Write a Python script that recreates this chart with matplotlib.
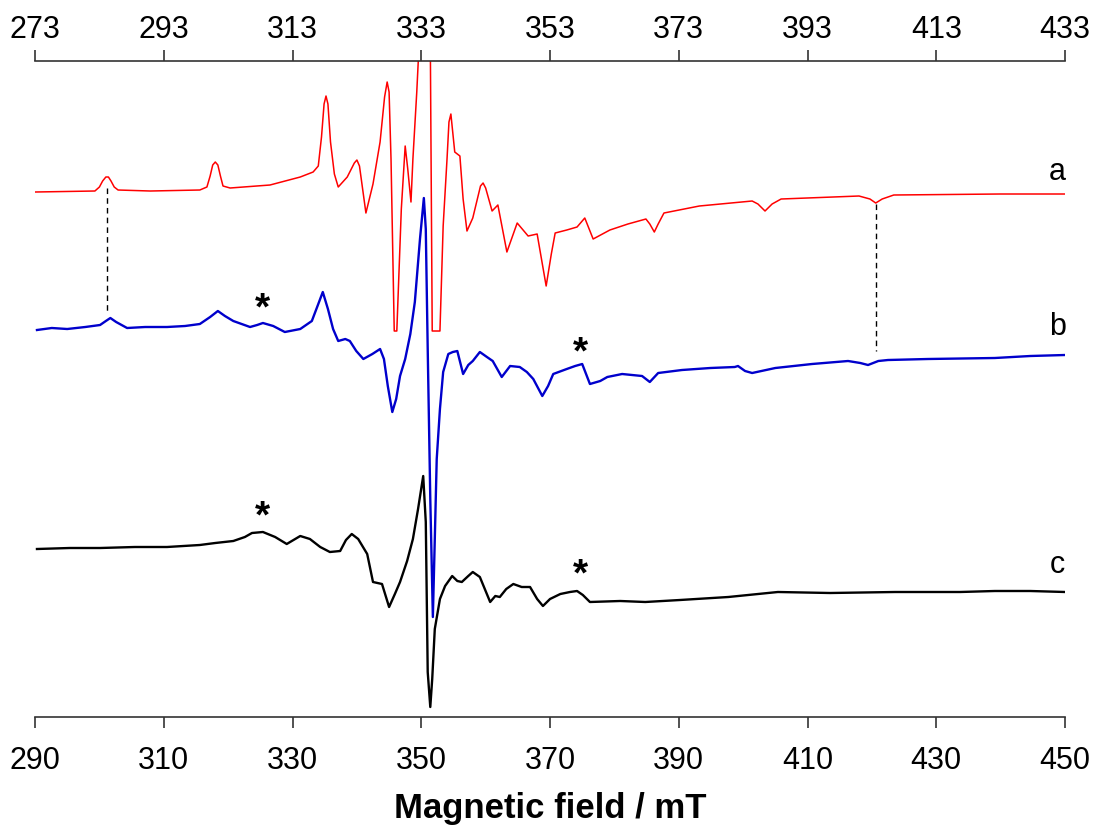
import matplotlib
matplotlib.use("Agg")
import matplotlib.pyplot as plt

plt.rcParams['font.family'] = ['Liberation Sans', 'DejaVu Sans']

# spectrum a (top axis, mT)
field_a = [273.0, 282.3, 283.0, 283.5, 284.0, 284.4, 284.8, 285.3, 285.9, 290.9,
           298.6, 299.7, 300.2, 300.6, 301.0, 301.4, 301.8, 302.2, 303.3, 309.5,
           314.2, 316.2, 317.0, 317.5, 317.9, 318.2, 318.5, 318.9, 319.5, 320.1,
           321.5, 322.6, 323.0, 323.4, 324.4, 325.5, 326.6, 327.3, 327.7, 328.0,
           328.3, 328.8, 329.2, 329.9, 330.5, 330.9, 331.4, 331.7, 332.3,
           332.7, 334.4, 334.7, 335.9, 336.4, 337.0, 337.3, 337.6, 338.2, 339.0, 339.5,
           340.1, 341.0, 342.2, 342.6, 343.0, 344.0, 344.9, 346.3, 347.9, 349.6, 351.0, 352.4,
           353.2, 353.8, 355.6, 357.2, 358.4, 359.7, 362.3, 365.1, 367.9, 368.5,
           369.2, 369.8, 370.7, 376.2, 384.4, 385.3, 386.4, 387.5, 388.9, 401.0,
           402.7, 403.6, 404.6, 406.4, 422.9, 433.0]
signal_a = [0, 1, 5, 11, 15, 15, 11, 5, 2, 1,
            2, 5, 16, 27, 30, 27, 16, 6, 4, 7,
            15, 20, 26, 55, 88, 96, 88, 50, 18, 5,
            15, 29, 32, 26, -21, 8, 50, 95, 110, 100,
            33, -139, -139, -17, 46, 23, -10, 33, 100,
            153, 153, -139, -139, -34, 33, 70, 78, 40, 36, -7,
            -39, -26, 6, 9, 4, -19, -13, -60, -31, -44, -42, -94,
            -62, -41, -38, -35, -26, -47, -38, -32, -27, -32,
            -40, -32, -21, -14, -9, -12, -19, -12, -7, -4,
            -7, -11, -7, -3, -2, -2]

# spectrum b (bottom axis, mT)
field_b = [290.3, 292.6, 295.0, 297.8, 300.1, 301.0, 301.7, 302.6, 304.3, 307.1,
           310.5, 313.3, 315.6, 317.2, 318.4, 319.5, 320.8, 323.4, 324.5, 325.4,
           327.0, 328.8, 331.2, 333.0, 334.0, 334.7, 335.5, 336.3, 337.1, 338.2,
           338.9, 339.9, 341.0, 342.4, 343.6, 344.2, 344.8, 345.5, 346.1, 346.7,
           347.5, 348.3, 349.0, 349.8, 350.4, 350.7, 351.0, 351.4, 351.8, 352.1,
           352.4, 352.9, 353.4, 354.2, 354.9, 355.6, 356.5, 357.3, 358.0, 359.1,
           360.2, 361.1, 362.5, 363.8, 365.3, 366.4, 367.4, 368.8, 369.7, 370.5,
           372.6, 373.9, 375.0, 375.6, 376.2, 377.8, 378.9, 381.2, 384.3, 385.5,
           386.8, 390.5, 394.9, 398.7, 399.2, 400.3, 401.4, 405.0, 410.7, 416.3,
           418.2, 419.4, 421.0, 422.5, 428.7, 439.1, 444.6, 450.0]
signal_b = [0, 2, 1, 3, 5, 9, 12, 8, 2, 3,
            3, 4, 6, 13, 19, 14, 9, 3, 5, 7,
            4, -2, 1, 9, 26, 38, 21, 1, -11, -9,
            -11, -21, -29, -24, -19, -29, -56, -82, -69, -46,
            -29, -4, 28, 91, 132, 101, -19, -169, -287, -209,
            -129, -79, -42, -24, -22, -21, -44, -35, -31, -22,
            -27, -31, -47, -36, -37, -42, -49, -66, -56, -44,
            -39, -36, -34, -44, -54, -51, -47, -44, -46, -52,
            -43, -40, -38, -37, -36, -41, -43, -38, -34, -31,
            -33, -35, -31, -30, -29, -28, -26, -25]

# spectrum c (bottom axis, mT)
field_c = [290.3, 295.4, 300.1, 305.5, 310.5, 315.6, 318.0, 320.8, 322.6, 323.7,
           325.4, 327.3, 329.1, 331.2, 332.7, 334.3, 335.8, 337.4, 338.3, 339.2,
           340.2, 341.6, 342.5, 343.9, 345.0, 345.9, 346.7, 347.8, 348.7, 349.5,
           350.3, 350.7, 351.0, 351.4, 351.7, 352.1, 352.9, 353.7, 354.8, 355.6,
           356.3, 357.3, 358.0, 359.1, 360.7, 361.5, 362.2, 363.2, 364.3, 365.6,
           366.9, 368.0, 368.9, 370.0, 371.6, 373.1, 374.2, 375.1, 376.2, 380.9,
           384.8, 390.2, 397.7, 405.4, 413.5, 423.6, 433.7, 439.1, 444.6, 450.0]
signal_c = [0, 1, 1, 2, 2, 4, 6, 8, 12, 16,
            17, 12, 5, 13, 10, 2, -3, -2, 9, 15,
            10, -5, -33, -35, -58, -45, -33, -12, 10, 40,
            73, 27, -123, -158, -130, -80, -50, -37, -27, -32,
            -33, -27, -23, -28, -53, -47, -48, -40, -35, -38,
            -38, -50, -57, -50, -45, -43, -42, -46, -53, -52,
            -53, -51, -48, -43, -44, -43, -43, -42, -42, -43]

offset_a, offset_b, offset_c = 525, 387, 168

# guide lines (bottom field, y from, y to) and asterisk marks
guide_fields = [301.2, 420.6]
guide_y0 = [529, 513]
guide_y1 = [405, 366]
star_fields = [325.4, 374.7, 325.4, 374.7]
star_y = [409, 365, 201, 143]

fig = plt.figure(figsize=(10.95, 8.29), dpi=100)
ax = fig.add_axes([0.032, 0.1339, 0.9406, 0.7913])
ax2 = ax.twiny()

ax.plot(field_c, [v + offset_c for v in signal_c], color='black', lw=1.7)
ax.plot(field_b, [v + offset_b for v in signal_b], color='#0000cc', lw=1.7)
ax2.plot(field_a, [v + offset_a for v in signal_a], color='red', lw=1.1)

for f, y0, y1 in zip(guide_fields, guide_y0, guide_y1):
    ax.plot([f, f], [y0, y1], color='black', lw=1.0, ls=(0, (4, 3)))

for f, y in zip(star_fields, star_y):
    ax.text(f, y, '*', fontsize=28, fontweight='bold', ha='center', va='center')

ax.text(448.8, 546, 'a', fontsize=22, ha='center', va='center')
ax.text(448.8, 391, 'b', fontsize=22, ha='center', va='center')
ax.text(448.8, 153, 'c', fontsize=22, ha='center', va='center')

ax.set_xlim(290, 450)
ax2.set_xlim(273, 433)
ax.set_ylim(0, 656)
ax2.set_ylim(0, 656)
ax.set_xticks(range(290, 451, 20))
ax2.set_xticks(range(273, 434, 20))
ax.set_yticks([])
ax2.set_yticks([])

for s in ['left', 'right', 'top']:
    ax.spines[s].set_visible(False)
for s in ['left', 'right', 'bottom']:
    ax2.spines[s].set_visible(False)
ax.spines['bottom'].set_color('#333333')
ax2.spines['top'].set_color('#333333')
ax.spines['bottom'].set_linewidth(1.2)
ax2.spines['top'].set_linewidth(1.2)

ax.tick_params(axis='x', direction='out', length=8, width=1.2, color='#333333',
               labelsize=22, pad=12)
ax2.tick_params(axis='x', direction='out', length=8, width=1.2, color='#333333',
                labelsize=22, pad=4)

ax.set_xlabel('Magnetic field / mT', fontsize=25, fontweight='bold', labelpad=12)

fig.savefig('out.png', dpi=100)
